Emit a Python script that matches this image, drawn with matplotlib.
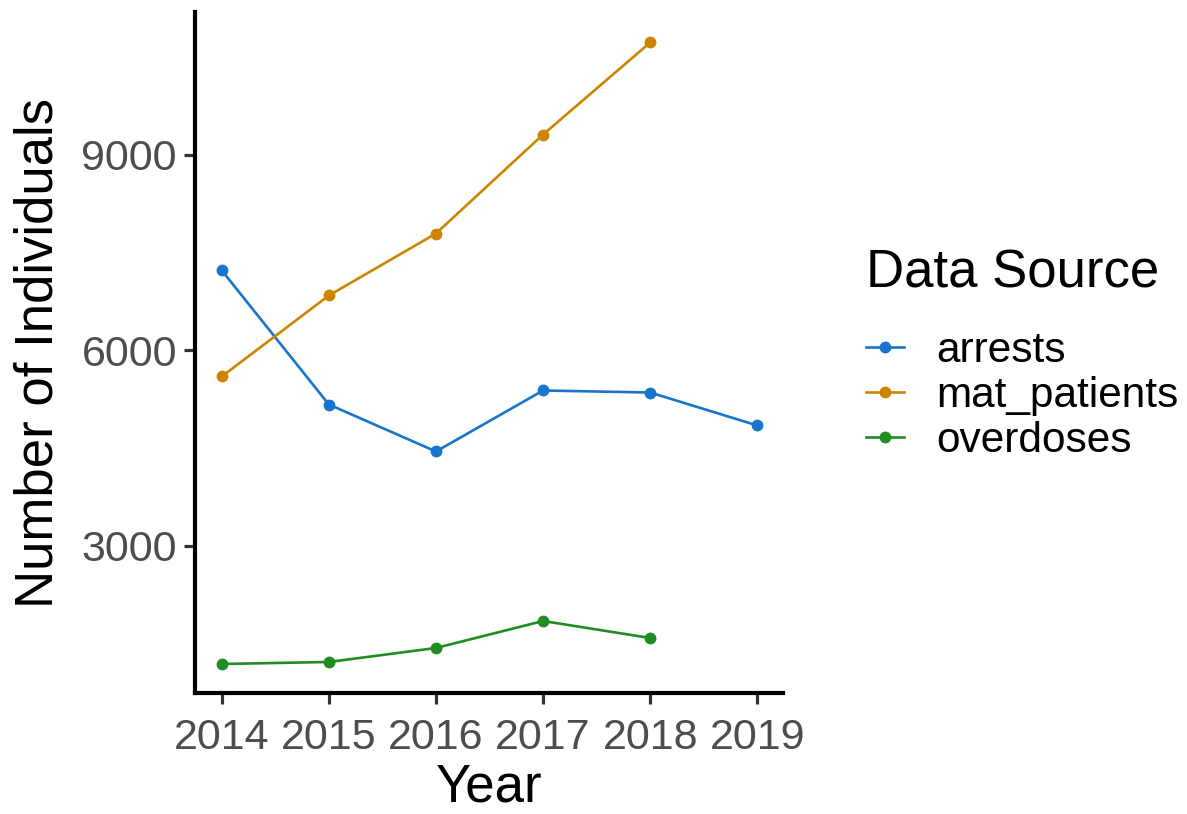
import matplotlib
matplotlib.use("Agg")
import matplotlib.pyplot as plt
from matplotlib.lines import Line2D

plt.rcParams['font.family'] = ['Liberation Sans', 'DejaVu Sans']

years = [2014, 2015, 2016, 2017, 2018, 2019]
arrests = [7228, 5171, 4450, 5386, 5355, 4849]
mat_years = [2014, 2015, 2016, 2017, 2018]
mat_patients = [5601, 6844, 7795, 9314, 10726]
od_years = [2014, 2015, 2016, 2017, 2018]
overdoses = [1189, 1220, 1435, 1849, 1588]

series = [
    ("arrests", years, arrests, "#1874CD"),
    ("mat_patients", mat_years, mat_patients, "#CD8500"),
    ("overdoses", od_years, overdoses, "#228B22"),
]

W, H = 1187, 814
fig = plt.figure(figsize=(W / 100, H / 100), dpi=100)
ax = fig.add_axes([195 / W, 1 - 693 / H, (783 - 195) / W, (693 - 12) / H])

handles = []
for name, xs, ys, c in series:
    ax.plot(xs, ys, color=c, lw=1.9, marker='o', ms=7.5, mec=c, mfc=c)
    handles.append(Line2D([0], [0], color=c, lw=1.9, marker='o', ms=7.5, label=name))

ax.set_xlim(2013.75, 2019.24)
ax.set_ylim(744, 11194)
ax.set_xticks(years)
ax.set_yticks([3000, 6000, 9000])
ax.tick_params(axis='both', labelsize=31, colors='#333333', width=2.3, length=8,
               labelcolor='#4D4D4D')
ax.tick_params(axis='x', pad=10)
ax.tick_params(axis='y', pad=5)
for s in ['top', 'right']:
    ax.spines[s].set_visible(False)
for s in ['left', 'bottom']:
    ax.spines[s].set_linewidth(3)
    ax.spines[s].set_color('black')
ax.set_xlabel("Year", fontsize=38, labelpad=3)
ax.set_ylabel("Number of Individuals", fontsize=38, labelpad=13)

fig.text(866 / W, 1 - 273 / H, "Data Source", fontsize=38, ha='left', va='center')
leg = fig.legend(handles=handles, loc='center left',
                 bbox_to_anchor=(866 / W, 1 - 396 / H), frameon=False,
                 fontsize=30.5, handlelength=0.9,
                 labelspacing=0.12, handletextpad=0.75, borderpad=0,
                 borderaxespad=0)

fig.savefig("out.png", dpi=100)
